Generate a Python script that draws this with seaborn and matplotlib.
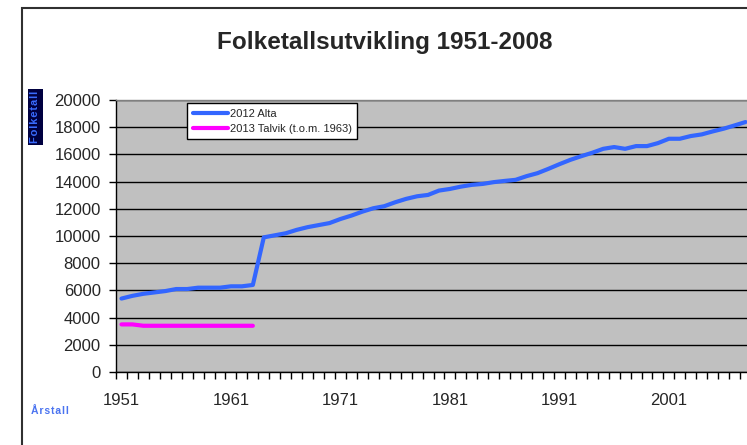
import numpy as np
import pandas as pd
import matplotlib
matplotlib.use('Agg')
import matplotlib.pyplot as plt
import seaborn as sns
from matplotlib.patches import Rectangle

# Data
years = list(range(1951, 2009))
alta = [5400, 5600, 5750, 5850, 5950, 6100, 6100, 6200, 6200, 6200,
        6300, 6300, 6400, 9900, 10050, 10200, 10450, 10650, 10800, 10950,
        11250, 11500, 11790, 12040, 12190, 12480, 12730, 12920, 13020, 13340,
        13460, 13630, 13760, 13830, 13960, 14050, 14130, 14400, 14620, 14940,
        15280, 15600, 15870, 16120, 16410, 16540, 16410, 16610, 16610, 16830,
        17150, 17150, 17350, 17470, 17690, 17890, 18130, 18380]
talvik_years = list(range(1951, 1964))
talvik = [3500, 3500, 3400, 3400, 3400, 3400, 3400, 3400, 3400, 3400,
          3400, 3400, 3400]
series_names = ['2012 Alta', '2013 Talvik (t.o.m. 1963)']
series_colors = ['#3366ff', '#ff00ff']
xtick_labels = [1951, 1961, 1971, 1981, 1991, 2001]

df = pd.concat([
    pd.DataFrame({'year': years, 'folketall': alta, 'serie': series_names[0]}),
    pd.DataFrame({'year': talvik_years, 'folketall': talvik, 'serie': series_names[1]}),
])

sns.set_style('white')
plt.rcParams['font.family'] = ['Liberation Sans', 'DejaVu Sans']

W, H = 747, 445
fig = plt.figure(figsize=(W / 100, H / 100), dpi=100)
ax = fig.add_axes([116 / W, 1 - 372 / H, 635 / W, 272 / H])
ax.set_facecolor('#c0c0c0')

sns.lineplot(data=df, x='year', y='folketall', hue='serie',
             palette=dict(zip(series_names, series_colors)),
             linewidth=3.0, estimator=None, ax=ax,
             solid_capstyle='round', solid_joinstyle='round')

ax.set_xlim(1950.5, 2008.5)
ax.set_ylim(0, 20000)
ax.set_yticks(np.arange(0, 20001, 2000))
ax.yaxis.grid(True, color='black', linewidth=1)
ax.xaxis.grid(False)
ax.set_axisbelow(True)

ax.set_xticks(xtick_labels)
ax.set_xticks(np.arange(1950.5, 2009, 1), minor=True)
ax.tick_params(axis='x', which='major', length=0, pad=15, labelsize=12)
ax.tick_params(axis='x', which='minor', length=5, width=1, color='black',
               direction='out', bottom=True)
ax.tick_params(axis='y', length=5, width=1, color='black', direction='out',
               left=True, pad=6, labelsize=12)
ax.set_xlabel('')
ax.set_ylabel('')

for side in ['left', 'bottom']:
    ax.spines[side].set_color('black')
    ax.spines[side].set_linewidth(1)
for side in ['top', 'right']:
    ax.spines[side].set_color('#808080')
    ax.spines[side].set_linewidth(1)

handles, labels = ax.get_legend_handles_labels()
leg = ax.legend(handles, labels, loc='upper left',
                bbox_to_anchor=((187 - 116) / 635, 1 - 3 / 272),
                borderaxespad=0, frameon=True, fancybox=False,
                edgecolor='black', facecolor='white', framealpha=1,
                fontsize=8, handlelength=3.15, handletextpad=0.2,
                borderpad=0.5, labelspacing=0.45)
leg.get_frame().set_linewidth(1)

# outer chart frame
fig.patches.append(Rectangle((22 / W, -0.1), 1.2, 1.1 - 8 / H,
                             transform=fig.transFigure, fill=False,
                             edgecolor='#303030', linewidth=1.5))

hair = '\u200a'
fig.text(385 / W, 1 - 43 / H, 'Folketallsutvikling 1951-2008',
         ha='center', va='center', fontsize=17.5, fontweight='bold')
fig.text(35.5 / W, 1 - 117 / H, hair.join('Folketall'), rotation=90,
         ha='center', va='center', fontsize=8, fontweight='bold',
         color='#3a6cff',
         bbox=dict(facecolor='#000040', edgecolor='none', pad=1.5))
fig.text(31 / W, 1 - 411 / H, hair.join('Årstall'), ha='left', va='center',
         fontsize=7.5, fontweight='bold', color='#4a73f0')

fig.savefig('out.png', dpi=100)
